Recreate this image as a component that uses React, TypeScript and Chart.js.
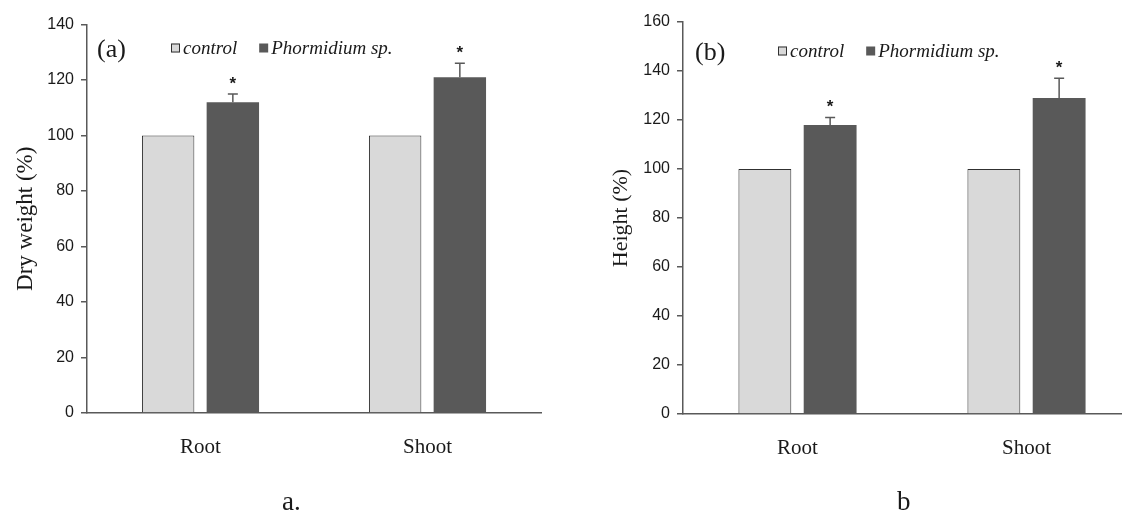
import React, { useEffect, useRef } from "react";
import { Chart, registerables } from "chart.js";

Chart.register(...registerables);

// ---------- data ----------
const categories = ["Root", "Shoot"];
const seriesNames = ["control", "Phormidium sp."];

const dryControl = [100, 100];
const dryControlErr = [0, 0];
const dryPhormidium = [112, 121];
const dryPhormidiumErr = [3, 5];

const heightControl = [100, 100];
const heightControlErr = [0, 0];
const heightPhormidium = [118, 129];
const heightPhormidiumErr = [3, 8];

const significance = ["*", "*"];

const dryYMax = 140;
const heightYMax = 160;
const yStep = 20;

// ---------- styles ----------
const SERIF = "'Liberation Serif', 'Times New Roman', serif";
const SANS = "'Liberation Sans', Arial, sans-serif";
const AXIS = "#595959";
const CONTROL_FILL = "#d9d9d9";
const CONTROL_EDGE = "#303030";
const PHORM_FILL = "#595959";
const TEXT = "#1a1a1a";

const decoPlugin = {
  id: "deco",
  afterDatasetsDraw(chart: any, _args: any, opts: any) {
    const ctx = chart.ctx;
    const yScale = chart.scales.y;
    chart.data.datasets.forEach((ds: any, di: number) => {
      const meta = chart.getDatasetMeta(di);
      meta.data.forEach((bar: any, i: number) => {
        const v = ds.data[i];
        const e = ds.errors ? ds.errors[i] : 0;
        const yt = yScale.getPixelForValue(v + e);
        ctx.save();
        if (e > 0) {
          ctx.strokeStyle = opts.errorColor;
          ctx.lineWidth = 1.5;
          ctx.beginPath();
          ctx.moveTo(bar.x, bar.y);
          ctx.lineTo(bar.x, yt);
          ctx.moveTo(bar.x - 5, yt);
          ctx.lineTo(bar.x + 5, yt);
          ctx.stroke();
        }
        if (ds.stars && ds.stars[i]) {
          ctx.fillStyle = TEXT;
          ctx.font = `bold 17px ${SANS}`;
          ctx.textAlign = "center";
          ctx.textBaseline = "middle";
          ctx.fillText(ds.stars[i], bar.x, yt - 10);
        }
        ctx.restore();
      });
    });
  },
  afterDraw(chart: any, _args: any, opts: any) {
    const ctx = chart.ctx;
    const area = chart.chartArea;
    ctx.save();
    // panel label
    ctx.fillStyle = TEXT;
    ctx.font = `26px ${SERIF}`;
    ctx.textAlign = "left";
    ctx.textBaseline = "middle";
    ctx.fillText(opts.panel, area.left + opts.panelDx, opts.panelY);
    // legend
    let x = opts.legendX;
    const yc = opts.legendY;
    ctx.font = `italic 19px ${SERIF}`;
    chart.data.datasets.forEach((ds: any) => {
      ctx.fillStyle = ds.backgroundColor;
      ctx.fillRect(x, yc - 4.5, 9, 9);
      if (ds.borderWidth > 0) {
        ctx.strokeStyle = ds.borderColor;
        ctx.lineWidth = 1;
        ctx.strokeRect(x + 0.5, yc - 4, 8, 8);
      }
      ctx.fillStyle = TEXT;
      ctx.fillText(ds.label, x + 12, yc + 1);
      x += 12 + ctx.measureText(ds.label).width + 22;
    });
    ctx.restore();
  },
};

function makeConfig(p: any): any {
  return {
    type: "bar",
    data: {
      labels: categories,
      datasets: [
        {
          label: seriesNames[0],
          data: p.control,
          errors: p.controlErr,
          stars: [],
          backgroundColor: CONTROL_FILL,
          borderColor: CONTROL_EDGE,
          borderWidth: 1,
        },
        {
          label: seriesNames[1],
          data: p.phorm,
          errors: p.phormErr,
          stars: significance,
          backgroundColor: PHORM_FILL,
          borderColor: PHORM_FILL,
          borderWidth: 0,
        },
      ],
    },
    options: {
      responsive: false,
      animation: false,
      layout: { padding: { top: p.top, right: p.right, left: 0, bottom: 0 } },
      datasets: { bar: { categoryPercentage: 0.57, barPercentage: 0.81 } },
      plugins: {
        legend: { display: false },
        tooltip: { enabled: false },
        deco: {
          panel: p.panel,
          panelDx: p.panelDx,
          panelY: p.panelY,
          legendX: p.legendX,
          legendY: p.legendY,
          errorColor: AXIS,
        },
      },
      scales: {
        x: {
          grid: { display: false, drawTicks: false },
          border: { display: true, color: AXIS, width: 1.5 },
          ticks: { color: TEXT, font: { family: SERIF, size: 21 }, padding: 22 },
          afterFit: (s: any) => {
            s.height = p.xHeight;
          },
        },
        y: {
          min: 0,
          max: p.yMax,
          ticks: { stepSize: yStep, color: TEXT, font: { family: SANS, size: 16 }, padding: 7 },
          grid: { drawOnChartArea: false, drawTicks: true, tickLength: 6, color: AXIS, lineWidth: 1.5 },
          border: { display: true, color: AXIS, width: 1.5 },
          title: {
            display: true,
            text: p.title,
            color: TEXT,
            font: { family: SERIF, size: p.titleSize },
            padding: { top: p.titlePad, bottom: 0 },
          },
          afterFit: (s: any) => {
            s.width = p.yWidth;
          },
        },
      },
    },
    plugins: [decoPlugin],
  };
}

function BarPanel(props: any) {
  const ref = useRef<HTMLCanvasElement>(null);
  useEffect(() => {
    const chart = new Chart(ref.current as HTMLCanvasElement, makeConfig(props.cfg));
    return () => chart.destroy();
  }, []);
  return (
    <canvas
      ref={ref}
      width={560}
      height={515}
      style={{ position: "absolute", left: props.left, top: 0, width: 560, height: 515 }}
    />
  );
}

export default function App() {
  const left = {
    control: dryControl,
    controlErr: dryControlErr,
    phorm: dryPhormidium,
    phormErr: dryPhormidiumErr,
    yMax: dryYMax,
    title: "Dry weight (%)",
    titleSize: 23,
    titlePad: 12,
    top: 24.5,
    right: 19,
    yWidth: 87,
    xHeight: 102,
    panel: "(a)",
    panelDx: 10,
    panelY: 50,
    legendX: 171,
    legendY: 48,
  };
  const right = {
    control: heightControl,
    controlErr: heightControlErr,
    phorm: heightPhormidium,
    phormErr: heightPhormidiumErr,
    yMax: heightYMax,
    title: "Height (%)",
    titleSize: 22,
    titlePad: 8,
    top: 22,
    right: 19,
    yWidth: 83,
    xHeight: 101,
    panel: "(b)",
    panelDx: 12,
    panelY: 53,
    legendX: 178,
    legendY: 51,
  };
  return (
    <div
      style={{
        position: "fixed",
        left: 0,
        top: 0,
        width: 1122,
        height: 515,
        overflow: "hidden",
        background: "#fff",
      }}
    >
      <BarPanel left={0} cfg={left} />
      <BarPanel left={600} cfg={right} />
      <div
        style={{
          position: "absolute",
          left: 282,
          top: 486,
          fontFamily: SERIF,
          fontSize: 27,
          lineHeight: "30px",
          color: TEXT,
        }}
      >
        a.
      </div>
      <div
        style={{
          position: "absolute",
          left: 897,
          top: 486,
          fontFamily: SERIF,
          fontSize: 27,
          lineHeight: "30px",
          color: TEXT,
        }}
      >
        b
      </div>
    </div>
  );
}
